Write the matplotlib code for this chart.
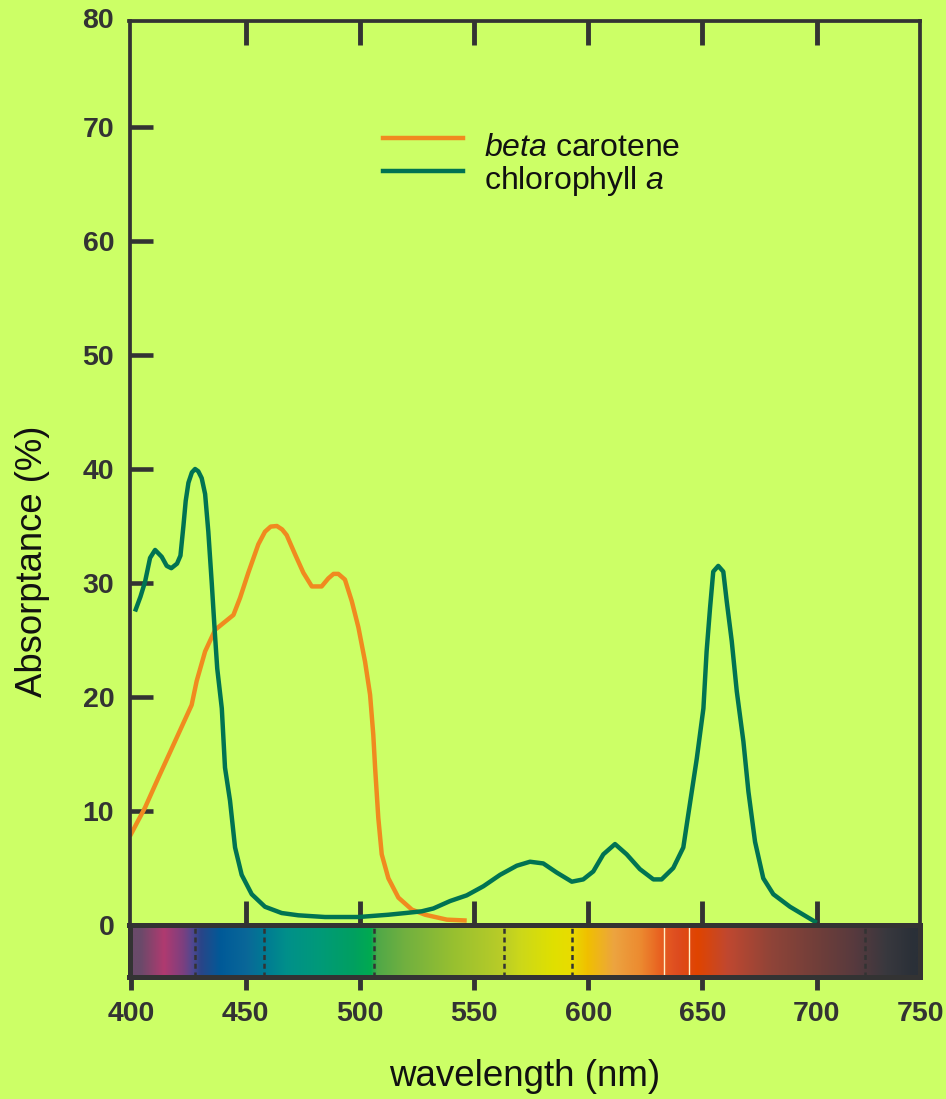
import numpy as np
import matplotlib
matplotlib.use('Agg')
import matplotlib.pyplot as plt
from matplotlib.lines import Line2D

# ---------------- data ----------------
chl_wl = [401.6, 404, 406, 408.2, 410.4, 413.3, 415.5, 417.5, 420, 421.5, 422.8, 423.8, 425,
          426.5, 427.9, 429.3, 430.8, 432.3, 433.7, 435.2, 436.5, 437.6, 439.6, 441, 443.2,
          445.4, 448.3, 452.7, 458.5, 465.8, 473.1, 484.8, 499.4, 512.5, 520, 527.1, 532.2,
          539.5, 546.8, 554.1, 561.4, 568.7, 574.5, 580.3, 586.2, 592.8, 597.8, 602.2, 606.6,
          611.7, 616.8, 622.6, 628.5, 632.1, 637.2, 641.6, 643.1, 645.3, 647.5, 650.4, 651.8,
          653.3, 654.7, 656.9, 659.1, 660.6, 662.8, 665, 667.9, 670.1, 673, 676.6, 681, 688.3, 700]
chl_abs = [27.5, 28.8, 30.1, 32.2, 32.9, 32.3, 31.5, 31.3, 31.7, 32.4, 35.0, 37.2, 38.8,
           39.7, 40.0, 39.8, 39.2, 37.8, 34.5, 30.0, 25.8, 22.5, 19.0, 13.8, 10.9,
           6.8, 4.4, 2.7, 1.6, 1.05, 0.85, 0.7, 0.7, 0.9, 1.05, 1.2, 1.45,
           2.1, 2.6, 3.4, 4.4, 5.2, 5.55, 5.4, 4.6, 3.8, 4.0, 4.7, 6.2,
           7.1, 6.2, 4.9, 4.0, 4.0, 5.0, 6.8, 8.8, 11.7, 14.6, 19.0, 24.0,
           27.8, 31.0, 31.5, 31.0, 28.4, 24.9, 20.5, 16.1, 11.7, 7.3, 4.1, 2.7, 1.6, 0.2]

car_wl = [399.4, 406, 411.8, 419.1, 426.4, 428.6, 432.3, 436.7, 441, 444.7, 447.6, 451.2,
          455.6, 458.5, 461, 463.7, 466, 468, 471.7, 475.3, 479, 483.3, 486.2, 488.5, 490.6,
          493.5, 496.5, 499.4, 502.3, 504.5, 505.9, 506.7, 508.1, 509.6, 512.5, 516.9, 522.8,
          528.6, 538.1, 546.8]
car_abs = [7.8, 10.3, 12.9, 16.1, 19.3, 21.4, 24.0, 25.9, 26.6, 27.2, 28.7, 30.9,
           33.4, 34.5, 34.95, 35.0, 34.7, 34.2, 32.5, 30.9, 29.7, 29.7, 30.4, 30.8, 30.8,
           30.3, 28.4, 26.1, 23.1, 20.2, 16.7, 13.8, 9.4, 6.2, 4.1, 2.4, 1.35,
           0.9, 0.47, 0.39]

series_labels = [r'$\it{beta}$ carotene', r'chlorophyll $\it{a}$']
y_ticks = [0, 10, 20, 30, 40, 50, 60, 70]
y_top_label = '80'
x_ticks = [400, 450, 500, 550, 600, 650, 700]
x_right_label = '750'
band_edges = [428, 458, 506, 563, 593, 721]
white_lines = [633, 644]

# spectrum strip colours (wavelength, colour)
spec_wl = [399, 403.8, 414, 422.6, 426.5, 430, 438.8, 450.5, 457.8, 468, 482.6, 497.2, 504.5,
           507.4, 519, 541, 561.4, 570, 584.7, 592, 599.3, 611, 622.6, 631.4, 638.7, 647.5,
           660.6, 679.5, 701.4, 716, 730.6, 742.2, 746]
spec_col = ['#6a4a6a', '#6a4a6a', '#b03a70', '#7a4080', '#504890', '#2a4588', '#005a98',
            '#0a6898', '#007a94', '#00908a', '#009a78', '#00a060', '#00aa50', '#50a848',
            '#70b040', '#98c030', '#b8cc28', '#ccd81a', '#e0e000', '#e8dc00', '#f0c000',
            '#eca440', '#ec8a30', '#e86020', '#dd4c20', '#e04400', '#c04830', '#904438',
            '#6e3e3a', '#583a3e', '#38383e', '#2a3038', '#2a3038']

# ---------------- style ----------------
BG = '#CCFF66'
DARK = '#333333'
ORANGE = '#F08A1F'
TEAL = '#007352'
TICK_FS = 20.5
plt.rcParams['font.family'] = ['Liberation Sans', 'DejaVu Sans']
plt.rcParams['mathtext.fontset'] = 'custom'
plt.rcParams['mathtext.rm'] = 'Liberation Sans'
plt.rcParams['mathtext.it'] = 'Liberation Sans:italic'

W, H = 946, 1099
fig = plt.figure(figsize=(W / 100, H / 100), dpi=100, facecolor=BG)


def box(l, t, r, b):
    return [l / W, 1 - b / H, (r - l) / W, (b - t) / H]


XMIN, XMAX = 399.2, 745.2
ax = fig.add_axes(box(129.5, 21, 920, 925))
ax.set_facecolor(BG)
ax.set_xlim(XMIN, XMAX)
ax.set_ylim(0, 79.3)
for s in ax.spines.values():
    s.set_color(DARK)
    s.set_linewidth(2.7)

ax.plot(car_wl, car_abs, color=ORANGE, lw=3.2, solid_capstyle='butt')
ax.plot(chl_wl, chl_abs, color=TEAL, lw=3.2, solid_capstyle='butt')

ax.set_yticks(y_ticks)
ax.set_yticklabels([str(v) for v in y_ticks], fontweight='bold')
ax.tick_params(axis='y', direction='in', length=16.5, width=3.3, color=DARK,
               pad=11, labelsize=TICK_FS, labelcolor=DARK)
ax.set_xticks(x_ticks[1:])
ax.tick_params(axis='x', direction='in', top=True, bottom=True, length=17,
               width=3.5, color=DARK, labelbottom=False)
ax.annotate(y_top_label, xy=(0, 1), xycoords='axes fraction', xytext=(-11, 0),
            textcoords='offset points', ha='right', va='center', fontsize=TICK_FS,
            fontweight='bold', color=DARK)

# spectrum strip
bx = fig.add_axes(box(129.5, 925, 920, 977))
xs = np.linspace(XMIN, XMAX, 1200)
rgb = np.array([matplotlib.colors.to_rgb(c) for c in spec_col])
grad = np.stack([np.interp(xs, spec_wl, rgb[:, k]) for k in range(3)], axis=-1)[None, :, :]
bx.imshow(grad, extent=[XMIN, XMAX, 0, 1], aspect='auto', interpolation='bilinear')
bx.set_xlim(XMIN, XMAX)
bx.set_ylim(0, 1)
bx.vlines(band_edges, 0, 1, colors=DARK, linestyles=(0, (2, 1.5)), lw=1.8)
bx.vlines(white_lines, 0, 1, colors='#fff0c8', lw=1.0)
for s in bx.spines.values():
    s.set_color(DARK)
    s.set_linewidth(3.6)
bx.set_yticks([])
bx.set_xticks(x_ticks)
bx.set_xticklabels([str(v) for v in x_ticks], fontweight='bold')
bx.tick_params(axis='x', direction='out', length=9, width=3.5, color=DARK,
               pad=8, labelsize=TICK_FS, labelcolor=DARK)
bx.annotate(x_right_label, xy=(1, 0), xycoords='axes fraction', xytext=(0, -17),
            textcoords='offset points', ha='center', va='top', fontsize=TICK_FS,
            fontweight='bold', color=DARK)

# axis titles
fig.text(524.5 / W, 1 - 1077 / H, 'wavelength (nm)', ha='center', va='center',
         fontsize=26.5, color='#111111')
fig.text(33 / W, 1 - 561 / H, 'Absorptance (%)', ha='center', va='center',
         rotation=90, fontsize=26.3, color='#111111')

# legend
for (ypx, col, base, lab) in [(138, ORANGE, 156, series_labels[0]),
                              (171, TEAL, 189, series_labels[1])]:
    fig.add_artist(Line2D([383 / W, 463 / W], [1 - ypx / H] * 2, color=col, lw=3.2,
                          transform=fig.transFigure))
    fig.text(484 / W, 1 - base / H, lab, ha='left', va='baseline', fontsize=23,
             color='#111111')

fig.savefig('out.png', dpi=100, facecolor=BG)
